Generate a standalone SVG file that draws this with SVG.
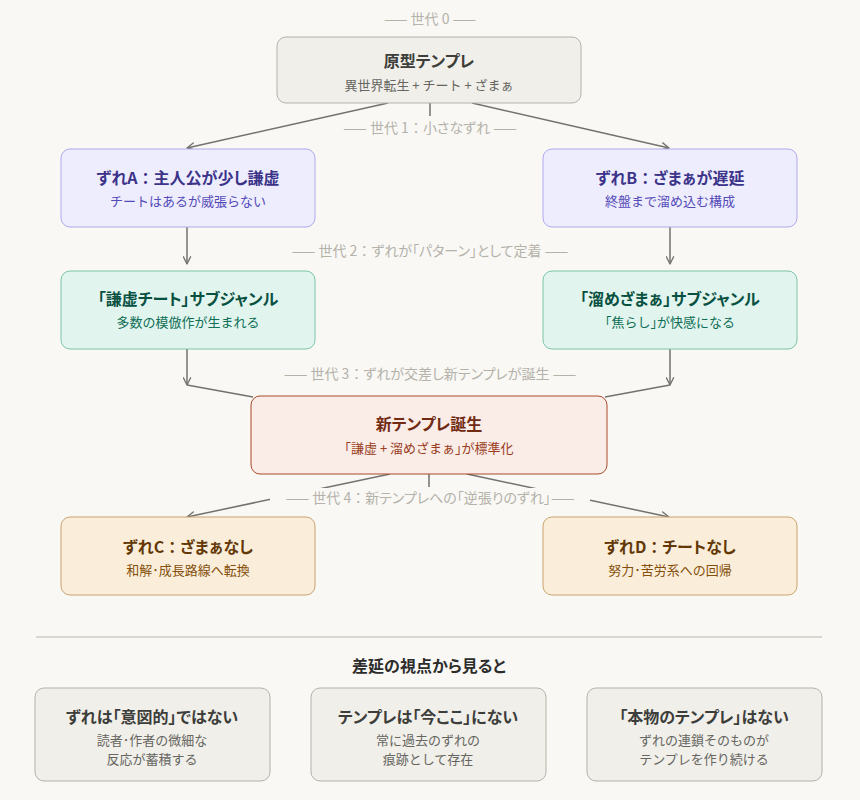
<svg xmlns="http://www.w3.org/2000/svg" width="860" height="800" viewBox="0 0 860 800">
<defs>
<marker id="arr" viewBox="0 0 10 10" refX="9" refY="5" markerWidth="9" markerHeight="9" markerUnits="userSpaceOnUse" orient="auto">
<path d="M1,1 L9,5 L1,9" fill="none" stroke="#73726c" stroke-width="1.5" stroke-linecap="round" stroke-linejoin="round"/>
</marker>
<style>
text{font-family:"Noto Sans CJK JP","Noto Sans",sans-serif;text-anchor:middle}
.t{font-size:16px;font-weight:700;font-feature-settings:"palt"}
.s{font-size:13px}
.lbl{font-size:14px;fill:#b4b2a9;font-feature-settings:"palt"}
.w{font-feature-settings:normal}
.h{font-feature-settings:"halt"}
.ln{stroke:#73726c;stroke-width:1.5;fill:none}
.gray rect{fill:#f0efea;stroke:#b4b2a9}
.gray .t{fill:#3d3d3a}.gray .s{fill:#666560}
.pur rect{fill:#eeedfe;stroke:#afa9ec}
.pur .t{fill:#3c3489}.pur .s{fill:#534ab7}
.teal rect{fill:#e1f5ee;stroke:#7cc4a8}
.teal .t{fill:#085041}.teal .s{fill:#0f6e56}
.cor rect{fill:#faece7;stroke:#a84a2a}
.cor .t{fill:#712b13}.cor .s{fill:#993c1d}
.amb rect{fill:#faeeda;stroke:#c9a46c}
.amb .t{fill:#633806}.amb .s{fill:#854f0b}
</style>
</defs>
<rect width="860" height="800" fill="#f9f8f5"/>

<g id="connectors">
<line class="ln" x1="388" y1="103" x2="187" y2="148" marker-end="url(#arr)"/>
<line class="ln" x1="472" y1="103" x2="669" y2="148" marker-end="url(#arr)"/>
<line class="ln" x1="430" y1="103" x2="430" y2="116"/>
<line class="ln" x1="187" y1="227" x2="187" y2="264" marker-end="url(#arr)"/>
<line class="ln" x1="670" y1="227" x2="670" y2="264" marker-end="url(#arr)"/>
<line class="ln" x1="187" y1="349" x2="187" y2="385" marker-end="url(#arr)"/>
<line class="ln" x1="670" y1="349" x2="670" y2="385" marker-end="url(#arr)"/>
<line class="ln" x1="187" y1="385" x2="253" y2="397"/>
<line class="ln" x1="670" y1="385" x2="605" y2="397"/>
<line class="ln" x1="390" y1="474" x2="187" y2="517" marker-end="url(#arr)"/>
<line class="ln" x1="467" y1="474" x2="669" y2="517" marker-end="url(#arr)"/>
<line class="ln" x1="429" y1="474" x2="429" y2="487"/>
</g>

<g id="labels">
<text class="lbl" x="430" y="24"><tspan class="w">——</tspan> 世代 0 <tspan class="w">——</tspan></text>
<rect x="330" y="118" width="200" height="20" fill="#f9f8f5"/>
<text class="lbl" x="430" y="133"><tspan class="w">——</tspan> 世代 1<tspan class="w">：</tspan>小さなずれ <tspan class="w">——</tspan></text>
<text class="lbl" x="430" y="256"><tspan class="w">——</tspan> 世代 2<tspan class="w">：</tspan>ずれが「パターン」として定着 <tspan class="w">——</tspan></text>
<text class="lbl" x="430" y="379"><tspan class="w">——</tspan> 世代 3<tspan class="w">：</tspan>ずれが交差し新テンプレが誕生 <tspan class="w">——</tspan></text>
<rect x="270" y="488" width="320" height="20" fill="#f9f8f5"/>
<text class="lbl" x="430" y="503"><tspan class="w">——</tspan> 世代 4<tspan class="w">：</tspan>新テンプレへの「逆張りのずれ」<tspan class="w">——</tspan></text>
</g>

<g id="n0" class="gray">
<rect x="277" y="37" width="304" height="66" rx="9"/>
<text class="t" x="429" y="67">原型テンプレ</text>
<text class="s" x="429" y="90">異世界転生 + チート + ざまぁ</text>
</g>

<g id="nA" class="pur">
<rect x="61" y="149" width="254" height="78" rx="9"/>
<text class="t" x="188" y="184">ずれA<tspan class="w">：</tspan>主人公が少し謙虚</text>
<text class="s" x="188" y="206">チートはあるが威張らない</text>
</g>
<g id="nB" class="pur">
<rect x="543" y="149" width="254" height="78" rx="9"/>
<text class="t" x="670" y="184">ずれB<tspan class="w">：</tspan>ざまぁが遅延</text>
<text class="s" x="670" y="206">終盤まで溜め込む構成</text>
</g>

<g id="nA2" class="teal">
<rect x="61" y="271" width="254" height="78" rx="9"/>
<text class="t" x="188" y="305">「謙虚チート」サブジャンル</text>
<text class="s" x="188" y="327">多数の模倣作が生まれる</text>
</g>
<g id="nB2" class="teal">
<rect x="543" y="271" width="254" height="78" rx="9"/>
<text class="t" x="670" y="305">「溜めざまぁ」サブジャンル</text>
<text class="s" x="670" y="327"><tspan class="h">「</tspan>焦らし<tspan class="h">」</tspan>が快感になる</text>
</g>

<g id="nNew" class="cor">
<rect x="251" y="396" width="356" height="78" rx="9"/>
<text class="t" x="429" y="430">新テンプレ誕生</text>
<text class="s" x="429" y="453"><tspan class="h">「</tspan>謙虚 + 溜めざまぁ<tspan class="h">」</tspan>が標準化</text>
</g>

<g id="nC" class="amb">
<rect x="61" y="517" width="254" height="78" rx="9"/>
<text class="t" x="188" y="553">ずれC<tspan class="w">：</tspan>ざまぁなし</text>
<text class="s" x="188" y="575">和解･成長路線へ転換</text>
</g>
<g id="nD" class="amb">
<rect x="543" y="517" width="254" height="78" rx="9"/>
<text class="t" x="670" y="553">ずれD<tspan class="w">：</tspan>チートなし</text>
<text class="s" x="670" y="575">努力･苦労系への回帰</text>
</g>

<line x1="36" y1="637" x2="822" y2="637" stroke="#d9d7d0" stroke-width="2"/>
<text x="429" y="672" style="font-size:16px;font-weight:700;fill:#2c2c2a;font-feature-settings:'palt'">差延の視点から見ると</text>

<g id="p1" class="gray">
<rect x="35" y="688" width="235" height="93" rx="9"/>
<text class="t" x="152" y="723">ずれは「意図的」ではない</text>
<text class="s" x="152" y="745">読者･作者の微細な</text>
<text class="s" x="152" y="764">反応が蓄積する</text>
</g>
<g id="p2" class="gray">
<rect x="311" y="688" width="235" height="93" rx="9"/>
<text class="t" x="428" y="723">テンプレは「今ここ」にない</text>
<text class="s" x="428" y="745">常に過去のずれの</text>
<text class="s" x="428" y="764">痕跡として存在</text>
</g>
<g id="p3" class="gray">
<rect x="587" y="688" width="235" height="93" rx="9"/>
<text class="t" x="704" y="723">「本物のテンプレ」はない</text>
<text class="s" x="704" y="745">ずれの連鎖そのものが</text>
<text class="s" x="704" y="764">テンプレを作り続ける</text>
</g>
</svg>
